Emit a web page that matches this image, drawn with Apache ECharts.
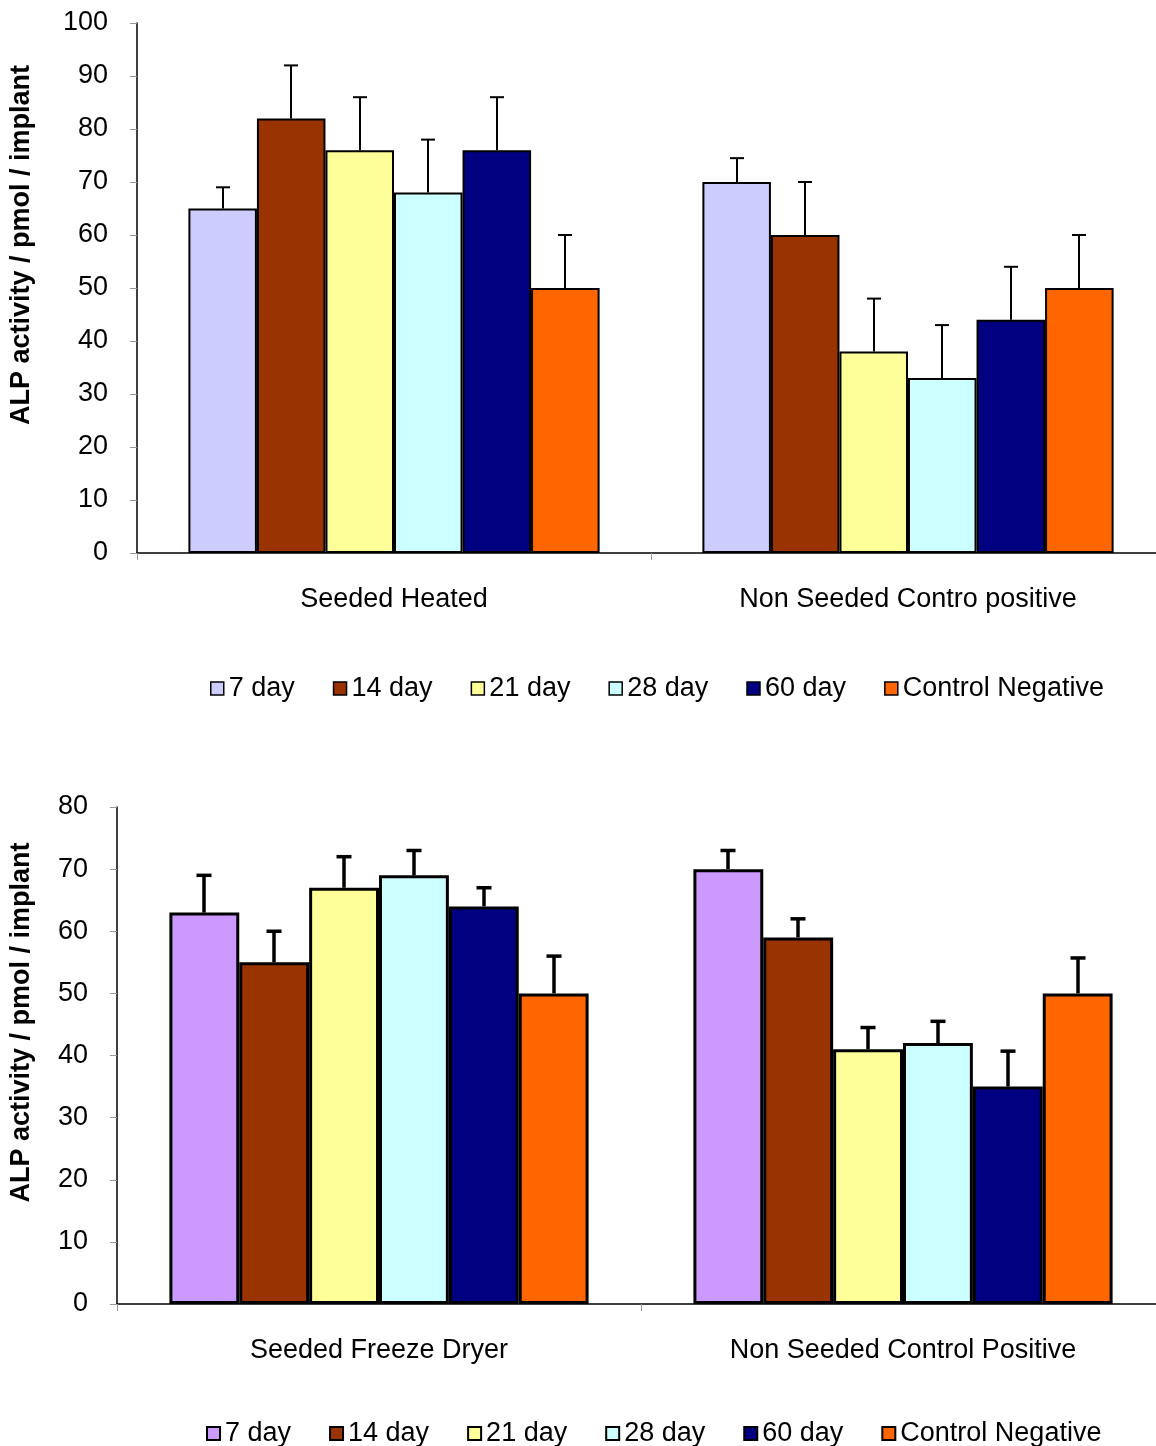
<!DOCTYPE html>
<html>
<head>
<meta charset="utf-8">
<script src="https://cdn.jsdelivr.net/npm/echarts@6/dist/echarts.min.js"></script>
<style>
html,body{margin:0;padding:0;background:#fff;}
#chart{width:1156px;height:1446px;}
</style>
</head>
<body>
<div id="chart"></div>
<script>
// ---- data ----
const seriesNames = ['7 day', '14 day', '21 day', '28 day', '60 day', 'Control Negative'];

const topCategories = ['Seeded Heated', 'Non Seeded Contro positive'];
const topTicks = [0, 10, 20, 30, 40, 50, 60, 70, 80, 90, 100];
// mean values, one array per series: [Seeded Heated, Non Seeded Contro positive]
const top7day = [65, 70];
const top14day = [82, 60];
const top21day = [76, 38];
const top28day = [68, 33];
const top60day = [76, 44];
const topControlNeg = [50, 50];
// upper ends of error bars
const top7dayErr = [69, 74.5];
const top14dayErr = [92, 70];
const top21dayErr = [86, 48];
const top28dayErr = [78, 43];
const top60dayErr = [86, 54];
const topControlNegErr = [60, 60];

const bottomCategories = ['Seeded Freeze Dryer', 'Non Seeded Control Positive'];
const bottomTicks = [0, 10, 20, 30, 40, 50, 60, 70, 80];
const bot7day = [63, 70];
const bot14day = [55, 59];
const bot21day = [67, 41];
const bot28day = [69, 42];
const bot60day = [64, 35];
const botControlNeg = [50, 50];
const bot7dayErr = [69, 73];
const bot14dayErr = [60, 62];
const bot21dayErr = [72, 44.5];
const bot28dayErr = [73, 45.5];
const bot60dayErr = [67, 40.7];
const botControlNegErr = [56, 55.7];

// ---- styling ----
const topColors = ['#CCCCFF', '#993300', '#FFFF99', '#CCFFFF', '#000080', '#FF6600'];
const bottomColors = ['#CC99FF', '#993300', '#FFFF99', '#CCFFFF', '#000080', '#FF6600'];
const FONT = '"Liberation Sans", Arial, Helvetica, sans-serif';

const topValues = [top7day, top14day, top21day, top28day, top60day, topControlNeg];
const topErrs = [top7dayErr, top14dayErr, top21dayErr, top28dayErr, top60dayErr, topControlNegErr];
const botValues = [bot7day, bot14day, bot21day, bot28day, bot60day, botControlNeg];
const botErrs = [bot7dayErr, bot14dayErr, bot21dayErr, bot28dayErr, bot60dayErr, botControlNegErr];

function buildErrData(values, errs) {
  const out = [];
  values.forEach((arr, j) => {
    arr.forEach((v, i) => { out.push([i, j, v, errs[j][i]]); });
  });
  return out;
}

function errRender(lineW, capW, nSeries) {
  return function (params, api) {
    const ci = api.value(0), j = api.value(1);
    const base = api.coord([ci, api.value(2)]);
    const up = api.coord([ci, api.value(3)]);
    const bandW = api.size([1, 0])[0];
    const groupW = bandW * 0.8;
    const bw = groupW / nSeries;
    const x = Math.round(base[0] - groupW / 2 + bw * (j + 0.5));
    const style = { stroke: '#000', lineWidth: lineW };
    return {
      type: 'group',
      children: [
        { type: 'line', shape: { x1: x, y1: base[1], x2: x, y2: up[1] }, style: style },
        { type: 'line', shape: { x1: x - capW / 2, y1: up[1], x2: x + capW / 2, y2: up[1] }, style: style }
      ]
    };
  };
}

const series = [];
seriesNames.forEach((name, j) => {
  series.push({
    name: name, type: 'bar', xAxisIndex: 0, yAxisIndex: 0,
    data: topValues[j], barGap: '0%', barCategoryGap: '20%',
    itemStyle: { color: topColors[j], borderColor: '#000', borderWidth: 2 },
    emphasis: { disabled: true }, z: 2
  });
});
seriesNames.forEach((name, j) => {
  series.push({
    name: name, type: 'bar', xAxisIndex: 1, yAxisIndex: 1,
    data: botValues[j], barGap: '0%', barCategoryGap: '20%',
    itemStyle: { color: bottomColors[j], borderColor: '#000', borderWidth: 3 },
    emphasis: { disabled: true }, z: 2
  });
});
series.push({
  type: 'custom', xAxisIndex: 0, yAxisIndex: 0, z: 3,
  renderItem: errRender(2, 14, 6),
  encode: { x: 0, y: [2, 3] },
  data: buildErrData(topValues, topErrs), silent: true
});
series.push({
  type: 'custom', xAxisIndex: 1, yAxisIndex: 1, z: 3,
  renderItem: errRender(3.5, 15, 6),
  encode: { x: 0, y: [2, 3] },
  data: buildErrData(botValues, botErrs), silent: true
});

function xAxisCfg(cats, grid) {
  return {
    type: 'category', gridIndex: grid, data: cats,
    axisLine: { show: true, lineStyle: { color: '#000', width: 1.5 } },
    axisTick: { show: true, length: 7, interval: 0, lineStyle: { color: '#999' } },
    axisLabel: { fontSize: 27, color: '#000', fontFamily: FONT, margin: 33, interval: 0 },
    splitLine: { show: false }
  };
}
function yAxisCfg(grid, max, gap, shift) {
  return {
    type: 'value', gridIndex: grid, min: 0, max: max, interval: 10,
    name: 'ALP activity / pmol / implant', nameLocation: 'middle', nameGap: gap, nameRotate: 90,
    nameTextStyle: { fontSize: 27, fontWeight: 'bold', color: '#000', fontFamily: FONT, padding: [0, 0, 0, shift] },
    axisLine: { show: true, lineStyle: { color: '#000', width: 1.5 } },
    axisTick: { show: true, length: 7, lineStyle: { color: '#999' } },
    axisLabel: { fontSize: 27, color: '#000', fontFamily: FONT, margin: 29 },
    splitLine: { show: false }
  };
}
function legendCfg(colors, left, top, bw) {
  return {
    left: left, top: top, itemGap: 38, itemWidth: 13, itemHeight: 13, icon: 'rect',
    selectedMode: false,
    textStyle: { fontSize: 27, color: '#000', fontFamily: FONT },
    data: seriesNames.map((n, j) => ({ name: n, itemStyle: { color: colors[j], borderColor: '#000', borderWidth: bw } }))
  };
}

const chart = echarts.init(document.getElementById('chart'), null, { renderer: 'canvas' });
chart.setOption({
  backgroundColor: '#fff',
  animation: false,
  grid: [
    { left: 137, top: 23, width: 1028, height: 530, outerBoundsMode: 'none' },
    { left: 117, top: 807, width: 1048, height: 497, outerBoundsMode: 'none' }
  ],
  xAxis: [xAxisCfg(topCategories, 0), xAxisCfg(bottomCategories, 1)],
  yAxis: [yAxisCfg(0, 100, 102, 86), yAxisCfg(1, 80, 82, 66)],
  legend: [legendCfg(topColors, 205, 670, 1.5), legendCfg(bottomColors, 201, 1415, 2)],
  series: series
});
</script>
</body>
</html>
